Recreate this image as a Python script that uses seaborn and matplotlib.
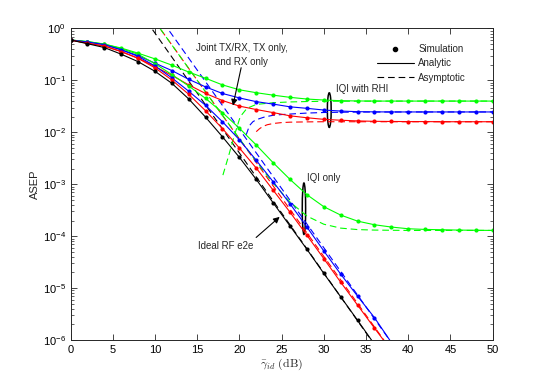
import numpy as np
import pandas as pd
import matplotlib
matplotlib.use("Agg")
import matplotlib.pyplot as plt
from matplotlib.patches import Ellipse
from matplotlib.lines import Line2D
import seaborn as sns

# ---------------- data ----------------
snr = [0, 2, 4, 6, 8, 10, 12, 14, 16, 18, 20, 22, 24, 26, 28, 30, 32, 34, 36, 38,
       40, 42, 44, 46, 48, 50]

ideal = [0.60, 0.51, 0.43, 0.32, 0.23, 0.15, 0.088, 0.044, 0.0196, 0.0082, 0.0033,
         0.00124, 0.00044, 0.000157, 5.6e-5, 1.92e-5, 6.8e-6, 2.4e-6, 8.3e-7]

red_iqi = [0.60, 0.52, 0.46, 0.36, 0.265, 0.175, 0.102, 0.054, 0.026, 0.0118, 0.0050,
           0.00205, 0.00077, 0.00029, 0.000104, 3.7e-5, 1.3e-5, 4.7e-6, 1.7e-6, 6.3e-7]
blue_iqi = [0.60, 0.55, 0.49, 0.39, 0.29, 0.19, 0.112, 0.062, 0.033, 0.016, 0.0072,
            0.0029, 0.00112, 0.00042, 0.00015, 5.2e-5, 1.86e-5, 7.0e-6, 2.7e-6, 9.0e-7]
green_iqi = [0.60, 0.56, 0.50, 0.41, 0.32, 0.21, 0.13, 0.078, 0.045, 0.024, 0.012,
             0.0057, 0.0026, 0.00124, 0.00063, 0.00037, 0.000255, 0.000195, 0.000166,
             0.00015, 0.000139, 0.000135, 0.000133, 0.000131, 0.00013, 0.000129]

red_rhi = [0.60, 0.52, 0.46, 0.36, 0.27, 0.185, 0.125, 0.082, 0.056, 0.041, 0.032,
           0.0275, 0.024, 0.0208, 0.0191, 0.0178, 0.0171, 0.0166, 0.0163, 0.0162,
           0.0161, 0.0161, 0.016, 0.016, 0.016, 0.016]
blue_rhi = [0.60, 0.55, 0.49, 0.39, 0.30, 0.215, 0.155, 0.105, 0.075, 0.056, 0.046,
            0.039, 0.035, 0.031, 0.029, 0.0269, 0.0257, 0.025, 0.0248, 0.0247,
            0.0247, 0.0247, 0.0247, 0.0247, 0.0247, 0.0247]
green_rhi = [0.60, 0.56, 0.50, 0.42, 0.335, 0.26, 0.197, 0.145, 0.11, 0.082, 0.066,
             0.058, 0.052, 0.0472, 0.0438, 0.0419, 0.0407, 0.0402, 0.0400, 0.0400,
             0.0400, 0.0400, 0.0400, 0.0400, 0.0400, 0.0400]

# asymptotes
ideal_asym_x = [9.0, 36.0]
ideal_asym_y = [1.39, 8.1e-7]
red_asym_x = [10.0, 38.0]
red_asym_y = [1.37, 6.3e-7]
blue_asym_x = [11.0, 38.5]
blue_asym_y = [1.30, 6.9e-7]
green_asym_x = [10.6, 12, 14, 16, 18, 20, 22, 24, 26, 28, 30, 32, 34, 36, 40, 45, 50]
green_asym_y = [1.0, 0.482, 0.17, 0.06, 0.0213, 0.0076, 0.00275, 0.00105, 0.000455,
                0.000244, 0.00017, 0.000143, 0.000134, 0.000131, 0.000129, 0.000129,
                0.000129]
green_rhi_asym_x = [18.05, 18.7, 19.3, 20.1, 20.9, 22, 24, 26, 28, 30, 35, 40, 50]
green_rhi_asym_y = [0.0015, 0.0034, 0.0076, 0.020, 0.029, 0.0345, 0.0372, 0.0385,
                    0.0392, 0.0396, 0.0399, 0.04, 0.04]
blue_rhi_asym_x = [20.8, 21.2, 21.6, 22, 23, 24, 25, 26, 28, 30, 32, 35, 40, 50]
blue_rhi_asym_y = [0.0089, 0.0135, 0.0160, 0.0175, 0.0198, 0.0213, 0.0220, 0.0225,
                   0.0235, 0.0241, 0.0244, 0.0246, 0.0247, 0.0247]
red_rhi_asym_x = [22.0, 22.4, 22.8, 23.3, 24, 25, 26, 28, 30, 35, 40, 50]
red_rhi_asym_y = [0.0103, 0.0118, 0.0130, 0.0140, 0.0148, 0.0154, 0.0157, 0.0159,
                  0.016, 0.016, 0.016, 0.016]

x_ticks = [0, 5, 10, 15, 20, 25, 30, 35, 40, 45, 50]

# ---------------- style ----------------
sns.set_style("ticks")
plt.rcParams['font.family'] = ['Liberation Sans', 'DejaVu Sans']
plt.rcParams['mathtext.fontset'] = 'custom'
plt.rcParams['mathtext.rm'] = 'Liberation Sans'
plt.rcParams['mathtext.it'] = 'Liberation Sans:italic'

GREEN = '#00ff00'
BLUE = '#0000ff'
RED = '#ff0000'
BLACK = '#000000'
DASH = (0, (6, 3.5))

fig = plt.figure(figsize=(5.45, 3.82), dpi=100)
ax = fig.add_axes([0.1294, 0.1099, 0.7745, 0.8155])
ax.set_yscale('log')

solid_kw = dict(linewidth=0.8, marker='o', markersize=3.0, markeredgewidth=0,
                estimator=None, sort=False, legend=False)
dash_kw = dict(linewidth=0.8, linestyle=DASH, estimator=None, sort=False,
               legend=False)

# asymptotic (dashed)
for xs, ys, c in [(ideal_asym_x, ideal_asym_y, BLACK),
                  (red_asym_x, red_asym_y, RED),
                  (blue_asym_x, blue_asym_y, BLUE),
                  (green_asym_x, green_asym_y, GREEN),
                  (green_rhi_asym_x, green_rhi_asym_y, GREEN),
                  (blue_rhi_asym_x, blue_rhi_asym_y, BLUE),
                  (red_rhi_asym_x, red_rhi_asym_y, RED)]:
    sns.lineplot(x=xs, y=ys, color=c, ax=ax, **dash_kw)

# analytic + simulation
for ys, c in [(green_rhi, GREEN), (blue_rhi, BLUE), (red_rhi, RED),
              (green_iqi, GREEN), (blue_iqi, BLUE), (red_iqi, RED),
              (ideal, BLACK)]:
    sns.lineplot(x=snr[:len(ys)], y=ys, color=c, ax=ax, **solid_kw)

ax.set_xlim(0, 50)
ax.set_ylim(1e-6, 1)
ax.set_xticks(x_ticks)
ax.set_xticklabels([str(t) for t in x_ticks])
ax.tick_params(which='both', direction='in', top=True, right=True, labelsize=8,
               colors='#262626', labelcolor='black')
ax.tick_params(which='major', length=4, width=0.6)
ax.tick_params(which='minor', length=2, width=0.5)
for s in ax.spines.values():
    s.set_linewidth(0.7)
    s.set_color('#262626')

ax.set_ylabel('ASEP', fontsize=8, labelpad=2)
ax.set_xlabel(r'$\bar{\gamma}_{id}\ \mathrm{(dB)}$', fontsize=8.5, labelpad=1,
              math_fontfamily='cm')

# legend
handles = [Line2D([], [], color='k', marker='o', markersize=3.0, linestyle='none'),
           Line2D([], [], color='k', linewidth=0.8),
           Line2D([], [], color='k', linewidth=0.8, linestyle=DASH)]
ax.legend(handles, ['Simulation', 'Analytic', 'Asymptotic'], loc='upper left',
          bbox_to_anchor=(0.726, 0.950), frameon=False, fontsize=7,
          handlelength=3.8, handletextpad=0.45, labelspacing=0.45, borderpad=0,
          borderaxespad=0)

# annotations
ax.text(20.3, 0.31, 'Joint TX/RX, TX only,\nand RX only', fontsize=7,
        ha='center', va='center', linespacing=1.45)
ax.annotate('', xy=(19.17, 0.029), xytext=(20.28, 0.198),
            arrowprops=dict(arrowstyle='-|>', color='k', lw=0.8, mutation_scale=9))
ax.text(31.5, 0.068, 'IQI with RHI', fontsize=7, ha='left', va='center')
ax.add_patch(Ellipse((0.613, 0.738), 0.009, 0.111, transform=ax.transAxes,
                     fill=False, edgecolor='k', linewidth=1.1))
ax.text(28.06, 1.3e-3, 'IQI only', fontsize=7, ha='left', va='center')
ax.add_patch(Ellipse((0.553, 0.4215), 0.008, 0.165, transform=ax.transAxes,
                     fill=False, edgecolor='k', linewidth=1.1))
ax.text(18.4, 6.5e-5, 'Ideal RF e2e', fontsize=7, ha='center', va='center')
ax.annotate('', xy=(25.02, 10 ** -3.593), xytext=(21.74, 10 ** -4.06),
            arrowprops=dict(arrowstyle='-|>', color='k', lw=0.8, mutation_scale=9))

fig.savefig('out.png', dpi=100)
